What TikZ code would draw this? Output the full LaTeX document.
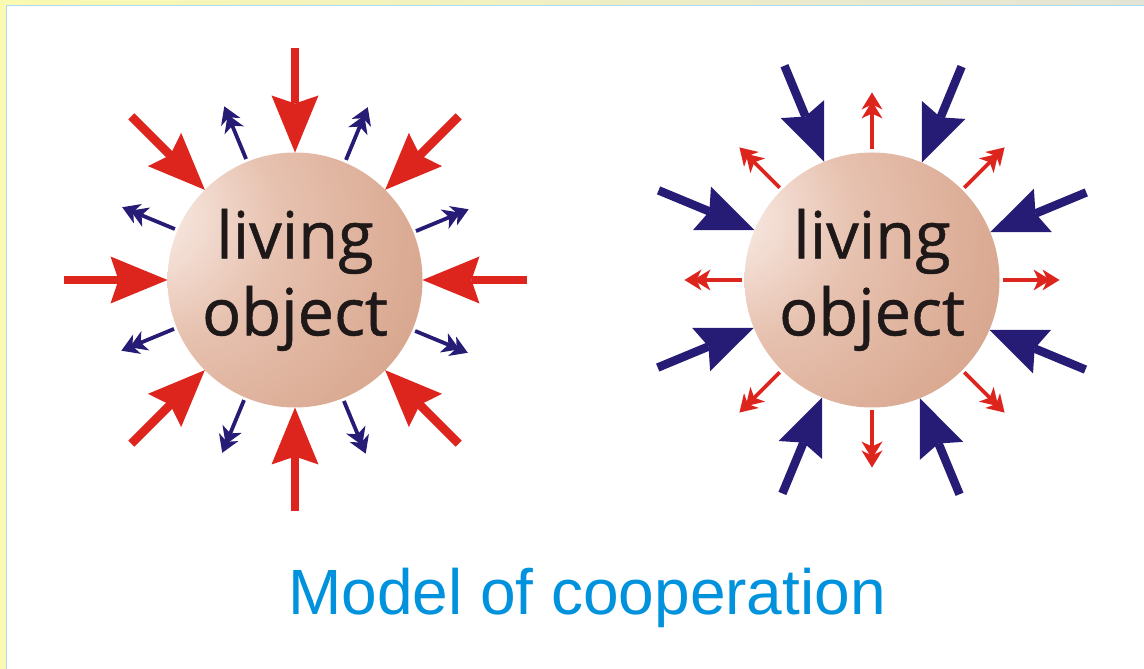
\documentclass[tikz,border=0pt]{standalone}
\usepackage{fontspec}
\usepackage{tikz}
\usetikzlibrary{arrows.meta,calc}

\newfontfamily\ballfont[FakeBold=0.8]{Open Sans}
\newfontfamily\titlefont{Liberation Sans}

\definecolor{pushRed}{RGB}{221,36,29}
\definecolor{pushBlue}{RGB}{38,28,118}
\definecolor{titleBlue}{RGB}{0,146,221}
\definecolor{inkBlack}{RGB}{30,24,24}
\definecolor{frameYellow}{RGB}{250,250,178}
\definecolor{frameGrey}{RGB}{228,228,214}
\definecolor{frameLine}{RGB}{172,218,240}
\definecolor{ballLight}{RGB}{252,243,239}
\definecolor{ballMid}{RGB}{231,194,176}
\definecolor{ballEdge}{RGB}{214,162,137}
\definecolor{ballDark}{RGB}{192,124,94}

% sphere shading, highlight up and to the left
\pgfdeclareradialshading{ballShade}{\pgfpoint{-32bp}{14bp}}{%
  color(0bp)=(ballLight); color(22bp)=(ballMid); color(50bp)=(ballEdge);
  color(84bp)=(ballDark); color(110bp)=(ballDark)}

\begin{document}
\begin{tikzpicture}[
    x=1pt, y=1pt,
    % Styles
    ball/.style={circle, minimum size=255pt, inner sep=0pt, outer sep=0pt, shading=ballShade,
      align=center, text=inkBlack, font=\ballfont\fontsize{65}{77}\selectfont},
    bigArrow/.style={line width=8.5pt,
      -{Stealth[length=57pt, width=47pt, inset=8pt, line width=0pt]}},
    smallArrow/.style={line width=3.8pt, shorten <=3pt,
      -{Stealth[length=17pt, width=21pt, inset=5pt, sep=-8pt, line width=0pt]
        Stealth[length=17pt, width=21pt, inset=5pt, line width=0pt]}}
]
\useasboundingbox (0,0) rectangle (1144,669);

% ================= FRAME =================
\shade[left color=frameYellow, right color=frameGrey] (0,664) rectangle (1144,669);
\fill[frameYellow] (0,0) rectangle (6,669);
\draw[frameLine, line width=1pt] (6.5,0) -- (6.5,663.5) -- (1144,663.5);

% ================= SPHERES =================
\node[ball] (leftBall) at (295,389) {living\\object};
\node[ball] (rightBall) at (872,389) {living\\object};

% ================= LEFT: red arrows in, blue arrows out =================
\draw[bigArrow, pushRed] ($(leftBall.0)+(0:104)$) -- (leftBall.0);
\draw[bigArrow, pushRed] ($(leftBall.45)+(45:104)$) -- (leftBall.45);
\draw[bigArrow, pushRed] ($(leftBall.90)+(90:104)$) -- (leftBall.90);
\draw[bigArrow, pushRed] ($(leftBall.135)+(135:104)$) -- (leftBall.135);
\draw[bigArrow, pushRed] ($(leftBall.180)+(180:104)$) -- (leftBall.180);
\draw[bigArrow, pushRed] ($(leftBall.225)+(225:104)$) -- (leftBall.225);
\draw[bigArrow, pushRed] ($(leftBall.270)+(270:104)$) -- (leftBall.270);
\draw[bigArrow, pushRed] ($(leftBall.315)+(315:104)$) -- (leftBall.315);

\draw[smallArrow, pushBlue] (leftBall.22.5) -- ($(leftBall.22.5)+(22.5:60)$);
\draw[smallArrow, pushBlue] (leftBall.67.5) -- ($(leftBall.67.5)+(67.5:60)$);
\draw[smallArrow, pushBlue] (leftBall.112.5) -- ($(leftBall.112.5)+(112.5:60)$);
\draw[smallArrow, pushBlue] (leftBall.157.5) -- ($(leftBall.157.5)+(157.5:60)$);
\draw[smallArrow, pushBlue] (leftBall.202.5) -- ($(leftBall.202.5)+(202.5:60)$);
\draw[smallArrow, pushBlue] (leftBall.247.5) -- ($(leftBall.247.5)+(247.5:60)$);
\draw[smallArrow, pushBlue] (leftBall.292.5) -- ($(leftBall.292.5)+(292.5:60)$);
\draw[smallArrow, pushBlue] (leftBall.337.5) -- ($(leftBall.337.5)+(337.5:60)$);

% ================= RIGHT: blue arrows in, red arrows out =================
\draw[bigArrow, pushBlue] ($(rightBall.22.5)+(22.5:104)$) -- (rightBall.22.5);
\draw[bigArrow, pushBlue] ($(rightBall.67.5)+(67.5:104)$) -- (rightBall.67.5);
\draw[bigArrow, pushBlue] ($(rightBall.112.5)+(112.5:104)$) -- (rightBall.112.5);
\draw[bigArrow, pushBlue] ($(rightBall.157.5)+(157.5:104)$) -- (rightBall.157.5);
\draw[bigArrow, pushBlue] ($(rightBall.202.5)+(202.5:104)$) -- (rightBall.202.5);
\draw[bigArrow, pushBlue] ($(rightBall.247.5)+(247.5:104)$) -- (rightBall.247.5);
\draw[bigArrow, pushBlue] ($(rightBall.292.5)+(292.5:104)$) -- (rightBall.292.5);
\draw[bigArrow, pushBlue] ($(rightBall.337.5)+(337.5:104)$) -- (rightBall.337.5);

\draw[smallArrow, pushRed] (rightBall.0) -- ($(rightBall.0)+(0:60)$);
\draw[smallArrow, pushRed] (rightBall.45) -- ($(rightBall.45)+(45:60)$);
\draw[smallArrow, pushRed] (rightBall.90) -- ($(rightBall.90)+(90:60)$);
\draw[smallArrow, pushRed] (rightBall.135) -- ($(rightBall.135)+(135:60)$);
\draw[smallArrow, pushRed] (rightBall.180) -- ($(rightBall.180)+(180:60)$);
\draw[smallArrow, pushRed] (rightBall.225) -- ($(rightBall.225)+(225:60)$);
\draw[smallArrow, pushRed] (rightBall.270) -- ($(rightBall.270)+(270:60)$);
\draw[smallArrow, pushRed] (rightBall.315) -- ($(rightBall.315)+(315:60)$);

% ================= CAPTION =================
\node[anchor=base, text=titleBlue, font=\titlefont\fontsize{64}{77}\selectfont] (caption) at (587,54) {Model of cooperation};

\end{tikzpicture}
\end{document}
